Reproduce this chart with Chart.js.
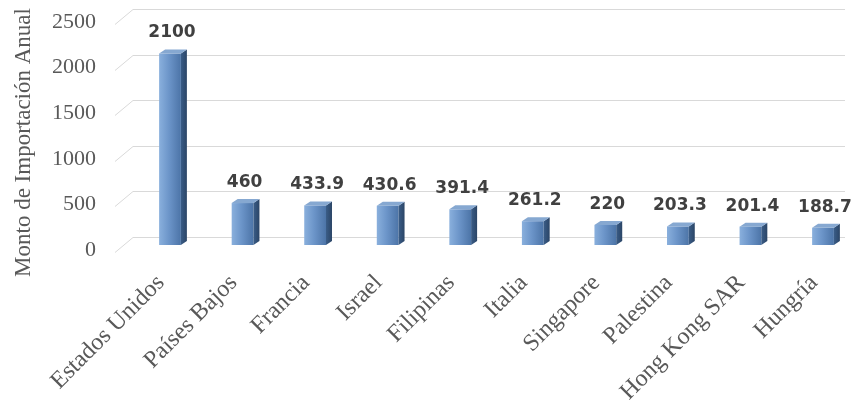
<!DOCTYPE html>
<html>
<head>
<meta charset="utf-8">
<script src="https://cdn.jsdelivr.net/npm/chart.js@4.4.0/dist/chart.umd.min.js"></script>
<style>
  html, body { margin: 0; padding: 0; background: #fff; }
  #wrap { width: 852px; height: 401px; }
</style>
</head>
<body>
<div id="wrap"><canvas id="importChart"></canvas></div>
<script>
// Importaciones anuales por país
const paises = ['Estados Unidos', 'Países Bajos', 'Francia', 'Israel', 'Filipinas',
                'Italia', 'Singapore', 'Palestina', 'Hong Kong SAR', 'Hungría'];
const montos = [2100, 460, 433.9, 430.6, 391.4, 261.2, 220, 203.3, 201.4, 188.7];
const ticksY = [0, 500, 1000, 1500, 2000, 2500];

const DEPTH_X = 6;
const DEPTH_Y = 4;

function frontGradient(ctx) {
    const chart = ctx.chart;
    const x = chart.scales.x;
    if (!chart.chartArea || !x) return '#6b93c7';
    const cx = x.getPixelForValue(ctx.dataIndex);
    if (!Number.isFinite(cx)) return '#6b93c7';
    const g = chart.ctx.createLinearGradient(cx - 11, 0, cx + 11, 0);
    g.addColorStop(0, '#8ab0dd');
    g.addColorStop(0.45, '#6c95c9');
    g.addColorStop(1, '#4c74a7');
    return g;
}

// back wall grid, side/top faces of each bar and the value labels
const barra3d = {
    id: 'barra3d',
    beforeDatasetsDraw(chart) {
        const { ctx, chartArea } = chart;
        const y = chart.scales.y;
        ctx.save();
        ctx.strokeStyle = '#d9d9d9';
        ctx.lineWidth = 1;
        y.ticks.forEach(t => {
            const py = Math.round(y.getPixelForValue(t.value) - 8) + 0.5;
            ctx.beginPath();
            ctx.moveTo(chartArea.left - 55, py + 15);
            ctx.lineTo(chartArea.left - 37, py);
            ctx.lineTo(chartArea.right + 22, py);
            ctx.stroke();
        });
        ctx.restore();
    },
    afterDatasetsDraw(chart) {
        const ctx = chart.ctx;
        const meta = chart.getDatasetMeta(0);
        ctx.save();
        meta.data.forEach((bar, i) => {
            const l = bar.x - bar.width / 2;
            const r = bar.x + bar.width / 2;
            const top = bar.y;
            const base = bar.base;

            // right side
            const sg = ctx.createLinearGradient(r, 0, r + DEPTH_X, 0);
            sg.addColorStop(0, '#3a5d88');
            sg.addColorStop(1, '#2b4566');
            ctx.fillStyle = sg;
            ctx.beginPath();
            ctx.moveTo(r, top);
            ctx.lineTo(r + DEPTH_X, top - DEPTH_Y);
            ctx.lineTo(r + DEPTH_X, base - DEPTH_Y);
            ctx.lineTo(r, base);
            ctx.closePath();
            ctx.fill();

            // top
            ctx.fillStyle = '#86a8d1';
            ctx.beginPath();
            ctx.moveTo(l, top);
            ctx.lineTo(l + DEPTH_X, top - DEPTH_Y);
            ctx.lineTo(r + DEPTH_X, top - DEPTH_Y);
            ctx.lineTo(r, top);
            ctx.closePath();
            ctx.fill();

            // value label
            ctx.fillStyle = '#404040';
            ctx.font = 'bold 17px "DejaVu Sans"';
            ctx.textAlign = 'center';
            ctx.textBaseline = 'alphabetic';
            ctx.fillText(String(montos[i]), bar.x + 2, top - 16);
        });
        ctx.restore();
    }
};

new Chart(document.getElementById('importChart'), {
    type: 'bar',
    data: {
        labels: paises,
        datasets: [{
            label: 'Monto de Importación Anual',
            data: montos,
            backgroundColor: frontGradient,
            borderWidth: 0,
            barPercentage: 0.3,
            categoryPercentage: 1,
            clip: false
        }]
    },
    options: {
        responsive: true,
        maintainAspectRatio: false,
        animation: false,
        layout: { padding: { top: 17, right: 29, left: 0, bottom: 0 } },
        plugins: {
            legend: { display: false },
            tooltip: { enabled: false }
        },
        scales: {
            x: {
                offset: false,
                grid: { display: false },
                border: { display: false },
                ticks: {
                    color: '#595959',
                    font: { family: '"Liberation Serif", serif', size: 24 },
                    minRotation: 45,
                    maxRotation: 45,
                    padding: 16,
                    labelOffset: -9
                },
                afterFit(scale) {
                    scale.height = 156;
                    scale.paddingLeft = 0;
                    scale.paddingRight = 0;
                }
            },
            y: {
                min: 0,
                max: 2500,
                grid: { display: false, drawTicks: false },
                border: { display: false },
                afterBuildTicks(scale) {
                    scale.ticks = ticksY.map(v => ({ value: v }));
                },
                ticks: {
                    color: '#595959',
                    font: { family: '"Liberation Serif", serif', size: 22 },
                    padding: 74,
                    labelOffset: 5,
                    callback: v => String(v)
                },
                title: {
                    display: true,
                    text: 'Monto de Importación Anual\u2002\u2002',
                    color: '#595959',
                    font: { family: '"Liberation Serif", serif', size: 23 },
                    padding: { top: 10, bottom: 0 }
                },
                afterFit(scale) {
                    // wide label gap, but keep the plot reaching the top
                    scale.width = 170;
                    scale.paddingTop = 0;
                    scale.paddingBottom = 0;
                }
            }
        }
    },
    plugins: [barra3d]
});
</script>
</body>
</html>
